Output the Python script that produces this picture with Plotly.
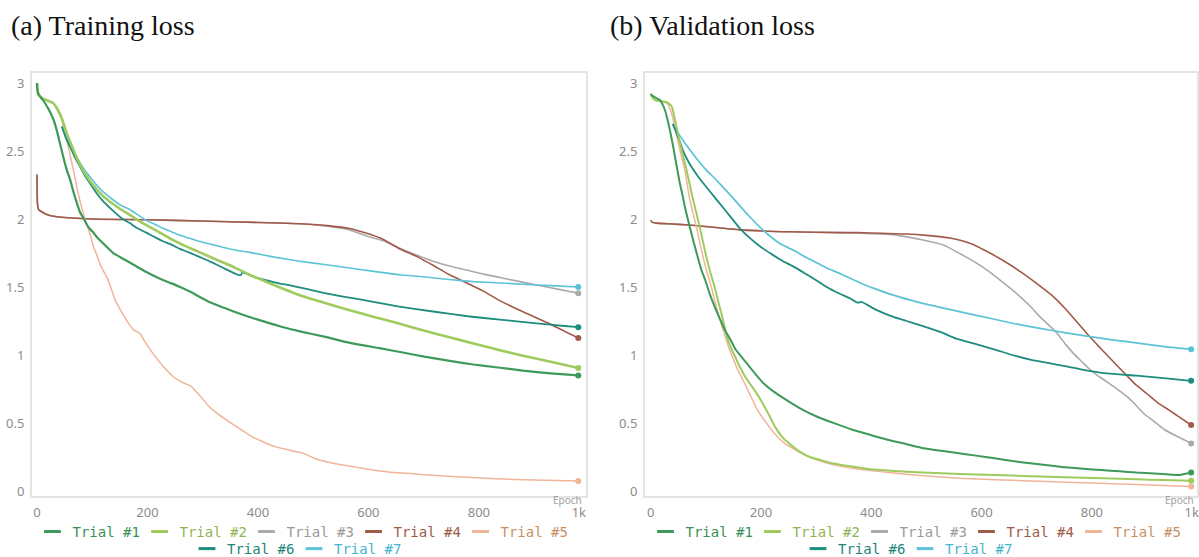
import plotly.graph_objects as go

# ---------------- data ----------------
trials = ["Trial #1", "Trial #2", "Trial #3", "Trial #4", "Trial #5", "Trial #6", "Trial #7"]
line_colors = ["#3e9a5a", "#9fcb5e", "#aaaaaa", "#a25a48", "#f0b498", "#1e8c7e", "#5cc3d7"]
text_colors = ["#3a8f56", "#8fb552", "#9a9a9a", "#9c5a48", "#c98f66", "#1e857a", "#45b5cf"]

x_tickvals = [0, 200, 400, 600, 800, 981]
x_ticktext = ["0", "200", "400", "600", "800", "1k"]
y_tickvals = [0, 0.5, 1, 1.5, 2, 2.5, 3]
y_ticktext = ["0", "0.5", "1", "1.5", "2", "2.5", "3"]

# Training loss
train_t1_epoch = [0, 2, 10, 15, 22, 30, 36, 42, 48, 54, 60, 66, 72, 78, 85, 93, 100, 108, 120, 138, 155, 168, 185, 198,
                  215, 229, 245, 259, 275, 289, 312, 340, 370, 400, 441, 480, 520, 571, 620, 660, 701, 750, 790, 831,
                  880, 930, 980]
train_t1_loss = [3.0, 2.92, 2.88, 2.85, 2.80, 2.73, 2.65, 2.55, 2.45, 2.36, 2.29, 2.20, 2.12, 2.05, 2.0, 1.94, 1.91,
                 1.87, 1.82, 1.75, 1.71, 1.68, 1.64, 1.61, 1.575, 1.55, 1.525, 1.50, 1.47, 1.44, 1.39, 1.345, 1.30,
                 1.26, 1.21, 1.17, 1.135, 1.086, 1.05, 1.02, 0.988, 0.955, 0.93, 0.91, 0.885, 0.865, 0.85]

train_t2_epoch = [0, 2, 8, 20, 30, 38, 45, 54, 62, 70, 78, 86, 96, 108, 122, 138, 152, 168, 183, 198, 214, 229, 244,
                  259, 275, 295, 320, 349, 385, 420, 476, 520, 566, 610, 657, 700, 747, 790, 838, 880, 930, 980]
train_t2_loss = [3.0, 2.93, 2.89, 2.87, 2.85, 2.80, 2.74, 2.63, 2.55, 2.47, 2.40, 2.34, 2.28, 2.22, 2.16, 2.11, 2.07,
                 2.03, 1.99, 1.955, 1.92, 1.885, 1.85, 1.82, 1.79, 1.755, 1.71, 1.66, 1.59, 1.53, 1.44, 1.385, 1.33,
                 1.28, 1.23, 1.18, 1.13, 1.085, 1.035, 0.995, 0.95, 0.905]

train_t3_epoch = [0, 1, 3, 10, 20, 40, 100, 200, 300, 400, 476, 530, 566, 597, 627, 657, 687, 717, 747, 778, 808,
                  838, 868, 898, 930, 960, 980]
train_t3_loss = [2.32, 2.12, 2.07, 2.05, 2.03, 2.015, 2.0, 1.995, 1.985, 1.975, 1.965, 1.945, 1.92, 1.875, 1.84,
                 1.785, 1.735, 1.69, 1.655, 1.625, 1.595, 1.57, 1.545, 1.52, 1.495, 1.47, 1.455]

train_t4_epoch = [0, 1, 3, 10, 20, 40, 100, 200, 295, 400, 476, 530, 566, 597, 627, 657, 690, 717, 747, 778, 808,
                  838, 868, 898, 928, 955, 980]
train_t4_loss = [2.33, 2.10, 2.07, 2.05, 2.03, 2.015, 2.0, 1.995, 1.985, 1.975, 1.965, 1.95, 1.93, 1.895, 1.85,
                 1.78, 1.72, 1.66, 1.59, 1.53, 1.47, 1.40, 1.34, 1.285, 1.23, 1.175, 1.125]

train_t5_epoch = [0, 2, 10, 20, 30, 36, 42, 48, 54, 60, 66, 72, 78, 84, 90, 96, 102, 108, 114, 120, 128, 135, 142,
                  150, 160, 168, 176, 182, 188, 195, 205, 214, 230, 247, 262, 279, 295, 312, 330, 351, 370, 389, 410,
                  428, 447, 467, 480, 506, 540, 571, 600, 636, 670, 701, 760, 831, 900, 980]
train_t5_loss = [3.0, 2.93, 2.89, 2.87, 2.85, 2.82, 2.78, 2.68, 2.58, 2.47, 2.36, 2.24, 2.13, 2.04, 1.96, 1.89, 1.80,
                 1.74, 1.67, 1.62, 1.56, 1.48, 1.40, 1.34, 1.27, 1.22, 1.18, 1.17, 1.15, 1.10, 1.04, 0.99, 0.91, 0.84,
                 0.80, 0.77, 0.70, 0.62, 0.56, 0.50, 0.45, 0.40, 0.36, 0.33, 0.31, 0.29, 0.28, 0.235, 0.20, 0.18,
                 0.16, 0.14, 0.13, 0.12, 0.105, 0.09, 0.08, 0.074]

train_t6_epoch = [45, 52, 60, 68, 78, 88, 98, 108, 120, 138, 152, 168, 183, 198, 214, 229, 244, 259, 275, 295, 315,
                  340, 368, 372, 400, 430, 460, 494, 540, 597, 650, 717, 780, 838, 900, 950, 980]
train_t6_loss = [2.68, 2.60, 2.53, 2.46, 2.385, 2.31, 2.25, 2.19, 2.13, 2.06, 2.01, 1.97, 1.93, 1.90, 1.865, 1.835,
                 1.81, 1.78, 1.755, 1.72, 1.685, 1.635, 1.585, 1.605, 1.565, 1.535, 1.51, 1.48, 1.44, 1.40, 1.36,
                 1.32, 1.285, 1.26, 1.235, 1.215, 1.205]

train_t7_epoch = [45, 52, 60, 70, 80, 90, 100, 108, 120, 138, 152, 168, 183, 198, 214, 229, 244, 259, 275, 295, 320,
                  349, 385, 430, 476, 520, 566, 610, 657, 700, 747, 790, 838, 880, 930, 980]
train_t7_loss = [2.68, 2.61, 2.55, 2.47, 2.40, 2.34, 2.29, 2.25, 2.20, 2.14, 2.10, 2.07, 2.03, 1.99, 1.96, 1.93,
                 1.905, 1.88, 1.86, 1.835, 1.81, 1.78, 1.755, 1.72, 1.69, 1.665, 1.64, 1.615, 1.59, 1.575, 1.555,
                 1.54, 1.53, 1.52, 1.51, 1.50]

# Validation loss
val_t1_epoch = [0, 2, 10, 17, 22, 26, 30, 35, 40, 44, 48, 53, 58, 62, 66, 71, 76, 80, 86, 92, 99, 107, 116, 125, 135,
                145, 154, 164, 174, 190, 205, 220, 238, 270, 302, 335, 366, 400, 431, 463, 495, 527, 559, 590, 624,
                656, 688, 720, 752, 785, 817, 850, 881, 913, 945, 960, 972, 980]
val_t1_loss = [2.92, 2.91, 2.89, 2.875, 2.84, 2.80, 2.74, 2.65, 2.55, 2.46, 2.37, 2.26, 2.17, 2.09, 2.02, 1.94, 1.86,
               1.80, 1.71, 1.625, 1.55, 1.45, 1.355, 1.27, 1.18, 1.11, 1.04, 0.99, 0.94, 0.86, 0.79, 0.74, 0.69,
               0.61, 0.546, 0.495, 0.45, 0.41, 0.375, 0.345, 0.314, 0.295, 0.277, 0.26, 0.24, 0.22, 0.204, 0.19,
               0.174, 0.163, 0.154, 0.145, 0.135, 0.128, 0.12, 0.118, 0.128, 0.135]

val_t2_epoch = [0, 2, 8, 20, 29, 38, 44, 53, 59, 65, 71, 77, 83, 89, 95, 101, 108, 116, 122, 128, 135, 141, 147, 154,
                162, 170, 178, 186, 195, 205, 215, 225, 238, 251, 270, 289, 310, 334, 365, 399, 450, 495,
                560, 624, 690, 752, 820, 881, 930, 980]
val_t2_loss = [2.92, 2.90, 2.875, 2.865, 2.86, 2.83, 2.73, 2.56, 2.46, 2.36, 2.25, 2.14, 2.04, 1.94, 1.83, 1.72,
               1.61, 1.50, 1.40, 1.31, 1.19, 1.10, 1.04, 0.98, 0.91, 0.85, 0.80, 0.755, 0.70, 0.63, 0.555,
               0.475, 0.40, 0.35, 0.29, 0.25, 0.225, 0.20, 0.18, 0.16, 0.145, 0.135, 0.125, 0.118, 0.108, 0.10,
               0.093, 0.086, 0.08, 0.076]

val_t3_epoch = [0, 3, 10, 30, 71, 100, 162, 253, 343, 400, 440, 470, 494, 530, 554, 585, 615, 640, 664, 688, 706,
                722, 737, 752, 767, 782, 797, 810, 821, 835, 849, 865, 880, 894, 910, 932, 955, 980]
val_t3_loss = [1.99, 1.975, 1.97, 1.965, 1.956, 1.945, 1.92, 1.906, 1.90, 1.893, 1.885, 1.865, 1.846, 1.81, 1.76,
               1.69, 1.61, 1.53, 1.45, 1.36, 1.28, 1.22, 1.16, 1.08, 1.01, 0.95, 0.89, 0.85, 0.82, 0.78, 0.74, 0.69,
               0.63, 0.57, 0.52, 0.45, 0.40, 0.35]

val_t4_epoch = [0, 3, 10, 30, 71, 100, 162, 253, 343, 376, 420, 464, 500, 543, 580, 615, 645, 675, 705, 730, 752,
                767, 782, 797, 812, 826, 845, 863, 880, 900, 919, 940, 958, 980]
val_t4_loss = [1.99, 1.975, 1.97, 1.965, 1.956, 1.945, 1.92, 1.906, 1.90, 1.90, 1.895, 1.89, 1.88, 1.86, 1.82, 1.75,
               1.68, 1.60, 1.51, 1.43, 1.34, 1.27, 1.20, 1.13, 1.065, 1.005, 0.925, 0.85, 0.78, 0.715, 0.65, 0.595,
               0.545, 0.485]

val_t5_epoch = [0, 2, 8, 20, 30, 36, 41, 50, 56, 62, 66, 71, 77, 83, 89, 95, 102, 110, 116, 122, 131, 141, 150, 158,
                167, 180, 193, 208, 225, 243, 263, 282, 302, 334, 366, 400, 431, 495, 559, 624, 688, 752, 817, 880,
                930, 980]
val_t5_loss = [2.92, 2.90, 2.875, 2.865, 2.85, 2.80, 2.73, 2.56, 2.46, 2.36, 2.26, 2.14, 2.04, 1.94, 1.83, 1.72,
               1.61, 1.50, 1.40, 1.31, 1.19, 1.06, 0.97, 0.89, 0.82, 0.71, 0.60, 0.51, 0.42, 0.35, 0.30, 0.26, 0.228,
               0.19, 0.167, 0.15, 0.135, 0.112, 0.093, 0.082, 0.074, 0.065, 0.057, 0.047, 0.04, 0.032]

val_t6_epoch = [40, 50, 59, 70, 83, 98, 114, 130, 146, 162, 180, 198, 220, 240, 259, 280, 300, 319, 343, 362, 375,
                382, 410, 440, 464, 488, 525, 554, 590, 624, 660, 690, 736, 780, 827, 881, 930, 980]
val_t6_loss = [2.70, 2.60, 2.50, 2.41, 2.33, 2.25, 2.17, 2.09, 2.01, 1.93, 1.86, 1.80, 1.74, 1.69, 1.65, 1.60, 1.55,
               1.50, 1.45, 1.415, 1.385, 1.39, 1.33, 1.28, 1.25, 1.22, 1.17, 1.12, 1.08, 1.04, 0.995, 0.965, 0.93,
               0.895, 0.865, 0.848, 0.83, 0.81]

val_t7_epoch = [40, 47, 60, 71, 86, 101, 116, 131, 146, 162, 180, 198, 216, 234, 259, 283, 300, 319, 343, 380, 405,
                440, 488, 525, 570, 615, 660, 706, 750, 797, 840, 887, 935, 980]
val_t7_loss = [2.70, 2.65, 2.57, 2.51, 2.43, 2.36, 2.30, 2.235, 2.17, 2.095, 2.015, 1.94, 1.875, 1.82, 1.77, 1.715,
               1.68, 1.64, 1.60, 1.53, 1.49, 1.44, 1.385, 1.35, 1.31, 1.27, 1.23, 1.196, 1.165, 1.135, 1.11,
               1.086, 1.06, 1.042]

train_series = [(train_t1_epoch, train_t1_loss), (train_t2_epoch, train_t2_loss), (train_t3_epoch, train_t3_loss),
                (train_t4_epoch, train_t4_loss), (train_t5_epoch, train_t5_loss), (train_t6_epoch, train_t6_loss),
                (train_t7_epoch, train_t7_loss)]
val_series = [(val_t1_epoch, val_t1_loss), (val_t2_epoch, val_t2_loss), (val_t3_epoch, val_t3_loss),
              (val_t4_epoch, val_t4_loss), (val_t5_epoch, val_t5_loss), (val_t6_epoch, val_t6_loss),
              (val_t7_epoch, val_t7_loss)]

# ---------------- figure ----------------
FW, FH = 1199, 557
fig = go.Figure()

train_widths = [2.2, 2.6, 1.6, 1.6, 1.5, 1.8, 1.6]
val_widths = [2.0, 2.0, 1.6, 1.6, 1.5, 1.8, 1.7]
order = [2, 3, 4, 6, 5, 1, 0]

for panel, series, widths in (("1", train_series, train_widths), ("2", val_series, val_widths)):
    xa = "x" if panel == "1" else "x2"
    ya = "y" if panel == "1" else "y2"
    for i in order:
        ex, ly = series[i]
        fig.add_trace(go.Scatter(x=ex, y=ly, mode="lines", xaxis=xa, yaxis=ya,
                                 line=dict(color=line_colors[i], width=widths[i], shape="spline", smoothing=0.5),
                                 showlegend=False, hoverinfo="skip"))
    for i in order:
        ex, ly = series[i]
        fig.add_trace(go.Scatter(x=[ex[-1]], y=[ly[-1]], mode="markers", xaxis=xa, yaxis=ya, cliponaxis=False,
                                 marker=dict(color=line_colors[i], size=6),
                                 showlegend=False, hoverinfo="skip"))
    for i, name in enumerate(trials):
        if panel == "1":
            lg = "legend" if i < 5 else "legend2"
        else:
            lg = "legend3" if i < 5 else "legend4"
        fig.add_trace(go.Scatter(x=[None], y=[None], mode="markers", xaxis=xa, yaxis=ya,
                                 marker=dict(symbol="line-ew-open", size=12, color=line_colors[i],
                                             line=dict(width=3, color=line_colors[i])),
                                 name=f'<span style="color:{text_colors[i]}">{name}</span>',
                                 legend=lg, showlegend=True))


def px_x(p):
    return p / FW


def px_y(p):
    return 1 - p / FH


axis_common = dict(showline=True, mirror=True, linecolor="#e4e4e4", linewidth=2, showgrid=False,
                   zeroline=False, ticks="", tickfont=dict(family="Noto Sans", size=13, color="#8c8c8c"))

fig.update_layout(
    width=FW, height=FH, margin=dict(l=0, r=0, t=0, b=0, autoexpand=False),
    paper_bgcolor="white", plot_bgcolor="white",
    xaxis=dict(domain=[px_x(32), px_x(586)], range=[-9, 994], tickvals=x_tickvals, ticktext=x_ticktext,
               anchor="y", ticklabelstandoff=3, **axis_common),
    yaxis=dict(domain=[px_y(496), px_y(73)], range=[-0.037, 3.074], tickvals=y_tickvals, ticktext=y_ticktext,
               anchor="x", ticklabelstandoff=3, **axis_common),
    xaxis2=dict(domain=[px_x(645), px_x(1197)], range=[-10.3, 990.6], tickvals=x_tickvals, ticktext=x_ticktext,
                anchor="y2", ticklabelstandoff=3, **axis_common),
    yaxis2=dict(domain=[px_y(496), px_y(73)], range=[-0.037, 3.074], tickvals=y_tickvals, ticktext=y_ticktext,
                anchor="x2", ticklabelstandoff=3, **axis_common),
)

legend_common = dict(orientation="h", xanchor="center", yanchor="middle", bgcolor="rgba(0,0,0,0)",
                     font=dict(family="DejaVu Sans Mono", size=14), entrywidth=62, tracegroupgap=0,
                     itemclick=False, itemdoubleclick=False)
fig.update_layout(
    legend=dict(x=px_x(300), y=px_y(532), **legend_common),
    legend2=dict(x=px_x(294), y=px_y(549), **legend_common),
    legend3=dict(x=px_x(913), y=px_y(532), **legend_common),
    legend4=dict(x=px_x(905), y=px_y(549), **legend_common),
)

annotations = [
    dict(text="(a) Training loss", x=px_x(9), y=px_y(25), xanchor="left", yanchor="middle",
         font=dict(family="Liberation Serif", size=28, color="#111111")),
    dict(text="(b) Validation loss", x=px_x(608), y=px_y(25), xanchor="left", yanchor="middle",
         font=dict(family="Liberation Serif", size=28, color="#111111")),
    dict(text="Epoch", x=px_x(584), y=px_y(500), xanchor="right", yanchor="middle",
         font=dict(family="Noto Sans", size=10, color="#a0a0a0")),
    dict(text="Epoch", x=px_x(1196), y=px_y(500), xanchor="right", yanchor="middle",
         font=dict(family="Noto Sans", size=10, color="#a0a0a0")),
]
for a in annotations:
    a.update(xref="paper", yref="paper", showarrow=False)
fig.update_layout(annotations=annotations)

# remove the default 8px page margin so the 1199x557 figure fills the window exactly
fig.write_html("out.html", config={"displayModeBar": False},
               post_script="document.body.style.margin='0';")
